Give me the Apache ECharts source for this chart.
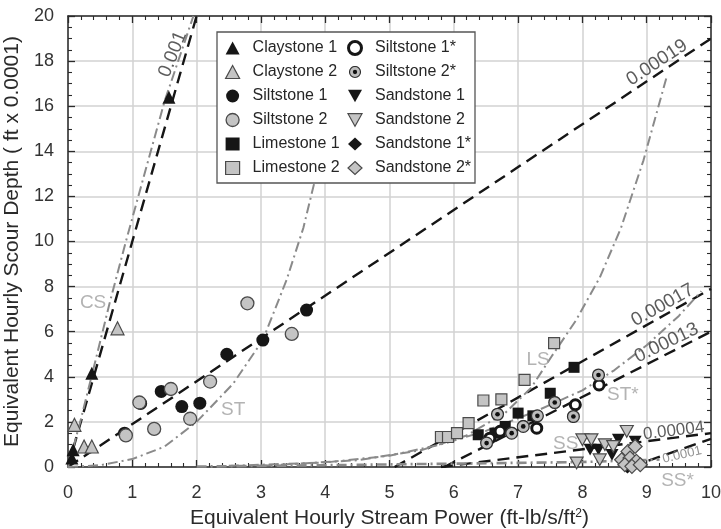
<!DOCTYPE html>
<html><head><meta charset="utf-8">
<script src="https://cdn.jsdelivr.net/npm/echarts@6/dist/echarts.min.js"></script>
<style>html,body{margin:0;padding:0;background:#fff}#c{width:721px;height:529px}</style>
</head><body><div id="c"></div>
<script>
// ---- data ----
var xTicks = [0,1,2,3,4,5,6,7,8,9,10];
var yTicks = [0,2,4,6,8,10,12,14,16,18,20];
var claystone1 = [[0.06,0.4],[0.08,0.77],[0.37,4.16],[1.57,16.4]];
var claystone2 = [[0.1,1.87],[0.25,0.91],[0.37,0.91],[0.77,6.15]];
var siltstone1 = [[0.88,1.5],[1.13,2.82],[1.45,3.35],[1.77,2.68],[2.05,2.83],[2.47,5.0],[3.03,5.63],[3.71,6.96]];
var siltstone2 = [[0.9,1.4],[1.11,2.86],[1.34,1.69],[1.6,3.46],[1.9,2.14],[2.21,3.79],[2.79,7.26],[3.48,5.9]];
var limestone1 = [[6.38,1.43],[6.64,1.5],[6.8,1.8],[7.0,2.39],[7.23,2.27],[7.5,3.27],[7.87,4.42]];
var limestone2 = [[5.8,1.33],[5.91,1.33],[6.05,1.5],[6.23,1.95],[6.46,2.95],[6.74,3.0],[7.1,3.86],[7.56,5.49]];
var siltstone1s = [[6.56,1.28],[6.72,1.58],[7.29,1.72],[7.89,2.76],[8.26,3.64]];
var siltstone2s = [[6.51,1.06],[6.68,2.34],[6.9,1.5],[7.08,1.8],[7.3,2.27],[7.57,2.86],[7.86,2.24],[8.25,4.08]];
var sandstone1 = [[8.12,0.77],[8.25,0.77],[8.46,0.54],[8.56,1.21],[8.82,1.13],[8.71,0.0]];
var sandstone2 = [[8.0,1.21],[8.14,1.21],[7.91,0.18],[8.27,0.32],[8.35,0.99],[8.48,0.91],[8.69,1.58]];
var sandstone1s = [[8.7,0.02]];
var sandstone2s = [[8.71,0.69],[8.82,0.91],[8.61,0.32],[8.74,0.4],[8.84,0.25],[8.66,0.1],[8.77,0.03],[8.9,0.1]];

// fitted lines (black dashed)
var fit0001  = [[0,0],[2,20]];
var fit00019 = [[0,0],[10,19]];
var fit00017 = [[5.08,0],[10,7.9]];
var fit00013 = [[5.85,0],[10,6.0]];
var fit00004 = [[5.8,0],[10,1.5]];
var fit0001b = [[8.75,0],[10,1.25]];
// grey dash-dot curves
var curveCS  = [[0,0],[0.19,2.0],[0.4,4.4],[0.65,7.3],[0.9,10],[1.5,16.2],[1.95,20]];
var curveST  = [[0,0],[0.5,0.08],[1,0.35],[1.5,0.9],[2,2.0],[2.57,3.7],[3.03,5.63],[3.4,8.3],[3.66,10.6],[3.95,14]];
var curveLS  = [[3,0.05],[4.5,0.3],[5.5,0.75],[6.2,1.4],[6.8,2.4],[7.2,3.5],[7.52,4.9],[7.9,6.5],[8.27,8.4],[8.6,10.6],[8.95,13.6],[9.32,17.4]];
var curveSTs = [[2.5,0.05],[4,0.2],[5,0.5],[5.8,1.0],[6.5,1.6],[7.3,2.5],[8.0,3.4],[8.5,4.3],[9.0,5.4],[9.5,6.7],[9.85,7.8]];
var curveSS  = [[2,0.02],[4,0.08],[6,0.15],[8,0.22],[9.2,0.33]];

// annotation texts and their anchor points (data coords)
var fitLabels   = ['0.001','0.00019','0.00017','0.00013','0.00004','0.0001'];
var fitLabelPos = [[1.63,18.3],[9.16,17.93],[9.25,7.17],[9.31,5.5],[9.42,1.6],[9.55,0.54]];
var curveLabels   = ['CS','ST','LS','ST*','SS','SS*'];
var curveLabelPos = [[0.39,7.27],[2.57,2.54],[7.31,4.75],[8.63,3.2],[7.74,1.03],[9.48,-0.6]];

var legendCol1 = ['Claystone 1','Claystone 2','Siltstone 1','Siltstone 2','Limestone 1','Limestone 2'];
var legendCol2 = ['Siltstone 1*','Siltstone 2*','Sandstone 1','Sandstone 2','Sandstone 1*','Sandstone 2*'];

// ---- styling ----
var FONT = 'Liberation Sans';
var BLK = '#161616', GFILL = '#c4c4c4', GEDGE = '#4a4a4a';
var dotSvg = '<svg xmlns="http://www.w3.org/2000/svg" width="26" height="26" viewBox="0 0 26 26">' +
  '<circle cx="13" cy="13" r="11" fill="#bdbdbd" stroke="#303030" stroke-width="2.4"/>' +
  '<circle cx="13" cy="13" r="4.3" fill="#111"/></svg>';
var dotSymbol = 'image://data:image/svg+xml;charset=utf-8,' + encodeURIComponent(dotSvg);
var downTri = 'path://M0,0L20,0L10,18Z';

function sc(name, data, symbol, size, fill, edge, bw) {
  return { name: name, type: 'scatter', data: data, symbol: symbol, symbolSize: size,
    symbolKeepAspect: true, z: 5,
    itemStyle: { color: fill, borderColor: edge, borderWidth: bw, opacity: 1 } };
}
function ln(data, color, width, dash) {
  return { type: 'line', data: data, symbol: 'none', showSymbol: false, smooth: false,
    z: 3, silent: true, clip: true,
    lineStyle: { color: color, width: width, type: dash } };
}
var fitRot = [68, 33.5, 29, 26, 7, 13];
var fitSize = [19, 19, 19, 19, 17, 13];
var fitColor = ['#333','#333','#333','#333','#333','#777'];

var fitLabelData = fitLabels.map(function (t, i) {
  return { value: fitLabelPos[i], name: t,
    label: { rotate: fitRot[i], fontSize: fitSize[i], color: fitColor[i] } };
});
var curveLabelData = curveLabels.map(function (t, i) {
  return { value: curveLabelPos[i], name: t };
});

var DASH = [12, 7], DASHDOT = [10, 4, 2, 4];
var series = [
  ln(fit0001, BLK, 2.4, DASH),
  ln(fit00019, BLK, 2.4, DASH),
  ln(fit00017, BLK, 2.4, DASH),
  ln(fit00013, BLK, 2.4, DASH),
  ln(fit00004, BLK, 2.4, DASH),
  ln(fit0001b, BLK, 2.4, DASH),
  ln(curveCS, '#8a8a8a', 2, DASHDOT),
  ln(curveST, '#8a8a8a', 2, DASHDOT),
  ln(curveLS, '#8a8a8a', 2, DASHDOT),
  ln(curveSTs, '#8a8a8a', 2, DASHDOT),
  ln(curveSS, '#8a8a8a', 2.6, DASHDOT),
  sc('Claystone 1', claystone1, 'triangle', 13, BLK, BLK, 0),
  sc('Claystone 2', claystone2, 'triangle', 13, GFILL, GEDGE, 1.2),
  sc('Siltstone 1', siltstone1, 'circle', 13, BLK, BLK, 0),
  sc('Siltstone 2', siltstone2, 'circle', 13, GFILL, GEDGE, 1.3),
  sc('Limestone 1', limestone1, 'rect', 11, BLK, BLK, 0),
  sc('Limestone 2', limestone2, 'rect', 11, GFILL, GEDGE, 1.2),
  sc('Siltstone 1*', siltstone1s, 'circle', 10, '#fff', BLK, 3),
  sc('Siltstone 2*', siltstone2s, dotSymbol, 14, GFILL, GEDGE, 0),
  sc('Sandstone 1', sandstone1, downTri, 13, BLK, BLK, 0),
  sc('Sandstone 2', sandstone2, downTri, 13, GFILL, GEDGE, 1.2),
  sc('Sandstone 1*', sandstone1s, 'diamond', 14, BLK, BLK, 0),
  sc('Sandstone 2*', sandstone2s, 'diamond', 14, GFILL, GEDGE, 1.2),
  { type: 'scatter', data: fitLabelData, symbolSize: 0, z: 6, clip: false, silent: true,
    label: { show: true, position: 'inside', formatter: '{b}', fontFamily: FONT, fontSize: 19, color: '#333' } },
  { type: 'scatter', data: curveLabelData, symbolSize: 0, z: 6, clip: false, silent: true,
    label: { show: true, position: 'inside', formatter: '{b}', fontFamily: FONT, fontSize: 19, color: '#a0a0a0' } }
];

function axisCommon(min, max, interval, minorSplit) {
  return {
    type: 'value', min: min, max: max, interval: interval,
    axisLine: { show: true, onZero: false, lineStyle: { color: '#2a2a2a', width: 1.5 } },
    axisTick: { show: true, inside: true, length: 7, lineStyle: { color: '#2a2a2a', width: 1.3 } },
    minorTick: { show: true, splitNumber: minorSplit, length: 4, lineStyle: { color: '#2a2a2a', width: 1.1 } },
    splitLine: { show: false }
  };
}
var xBottom = axisCommon(0, 10, 1, 5);
xBottom.splitLine = { show: true, lineStyle: { color: '#d2d2d2', width: 1.5 } };
xBottom.axisLabel = { margin: 17, fontFamily: FONT, fontSize: 18, color: '#333',
  formatter: function (v) { return xTicks.indexOf(v) >= 0 ? String(v) : ''; } };
xBottom.name = 'Equivalent Hourly Stream Power (ft-lb/s/ft{s|2})';
xBottom.nameLocation = 'middle';
xBottom.nameGap = 41;
xBottom.nameTextStyle = { fontFamily: FONT, fontSize: 21, color: '#2a2a2a',
  rich: { s: { fontSize: 12, verticalAlign: 'top', fontFamily: FONT, color: '#2a2a2a', padding: [0, 0, 9, 0] } } };
var xTop = axisCommon(0, 10, 1, 5);
xTop.position = 'top'; xTop.axisLabel = { show: false };

var yLeft = axisCommon(0, 20, 2, 4);
yLeft.splitLine = { show: true, lineStyle: { color: '#d2d2d2', width: 1.5 } };
yLeft.axisLabel = { margin: 14, fontFamily: FONT, fontSize: 18, color: '#333',
  formatter: function (v) { return yTicks.indexOf(v) >= 0 ? String(v) : ''; } };
yLeft.name = 'Equivalent Hourly Scour Depth ( ft x 0.0001)';
yLeft.nameLocation = 'middle';
yLeft.nameGap = 36;
yLeft.nameTextStyle = { fontFamily: FONT, fontSize: 21, color: '#2a2a2a' };
var yRight = axisCommon(0, 20, 2, 4);
yRight.position = 'right'; yRight.axisLabel = { show: false };

function legendAt(left, names) {
  return { show: true, orient: 'vertical', left: left, top: 40, padding: 0, itemGap: 8,
    itemWidth: 14, itemHeight: 13, symbolKeepAspect: true, selectedMode: false, z: 10,
    data: names,
    itemStyle: { borderWidth: 'inherit' },
    textStyle: { fontFamily: FONT, fontSize: 16, lineHeight: 16, color: '#262626', padding: [0, 0, 0, 8] } };
}

var option = {
  animation: false,
  backgroundColor: '#fff',
  grid: { left: 68, right: 10, top: 16, bottom: 62, containLabel: false, outerBoundsMode: 'none' },
  xAxis: [xBottom, xTop],
  yAxis: [yLeft, yRight],
  legend: [legendAt(225, legendCol1), legendAt(347, legendCol2)],
  graphic: [{ type: 'rect', z: 8, shape: { x: 217, y: 32, width: 258, height: 151 },
    style: { fill: '#fff', stroke: '#555', lineWidth: 1.3 } }],
  series: series
};
var chart = echarts.init(document.getElementById('c'), null, { renderer: 'canvas' });
chart.setOption(option);
</script></body></html>
